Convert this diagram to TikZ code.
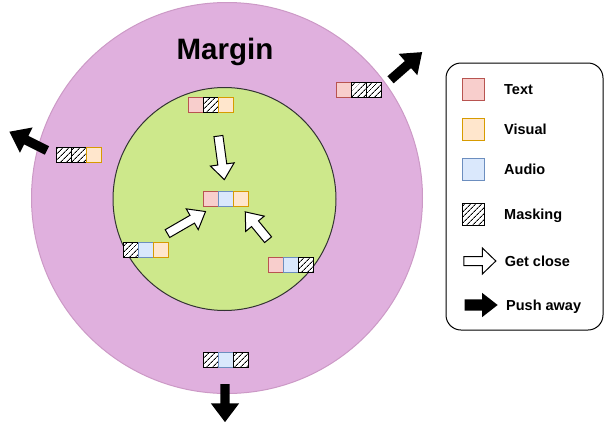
\documentclass[tikz,border=0pt]{standalone}
\usepackage{fontspec}
\setmainfont{Liberation Sans}
\usetikzlibrary{positioning,shapes.arrows,patterns.meta}
\definecolor{textfill}{HTML}{F8CECC}
\definecolor{textline}{HTML}{B85450}
\definecolor{visualfill}{HTML}{FFE6CC}
\definecolor{visualline}{HTML}{D79B00}
\definecolor{audiofill}{HTML}{DAE8FC}
\definecolor{audioline}{HTML}{6C8EBF}
\definecolor{marginfill}{HTML}{E0B0DE}
\definecolor{marginline}{HTML}{CC99C6}
\definecolor{corefill}{HTML}{CDE88B}
\tikzstyle{cell} = [rectangle, minimum size=15, inner sep=0, outer sep=0, line width=1]
\tikzstyle{textcell} = [cell, draw=textline, fill=textfill]
\tikzstyle{visualcell} = [cell, draw=visualline, fill=visualfill]
\tikzstyle{audiocell} = [cell, draw=audioline, fill=audiofill]
\tikzstyle{maskcell} = [cell, draw=black, preaction={fill=white}, pattern={Lines[angle=45, distance=4pt, line width=1pt]}]
\tikzstyle{getclose} = [single arrow, draw=black, fill=white, line width=1, inner xsep=0, inner ysep=4, single arrow head extend=7.5, single arrow tip angle=76]
\tikzstyle{pushaway} = [single arrow, fill=black, inner xsep=0, inner ysep=4.5, single arrow head extend=9.5, single arrow tip angle=74]
\tikzstyle{legendlabel} = [inner sep=0, anchor=west, text height=10, text depth=0, font=\fontsize{14.5}{17}\selectfont\bfseries]

\begin{document}
\begin{tikzpicture}[x=1pt, y=-1pt]
\useasboundingbox (0,0) rectangle (606,421);

% the two rings
\node [circle, draw=marginline, fill=marginfill, line width=1, minimum size=391] (margin) at (227,198) {};
\node [circle, draw=black!80, fill=corefill, line width=1, minimum size=223] (core) at (224.5,199) {};
\node [text height=20, text depth=0, font=\fontsize{29.5}{32}\selectfont\bfseries] (margintitle) at (225,49) {Margin};

% samples inside the margin
\node [textcell] (tin1) at (195.5,104.5) {};
\node [maskcell, right=0pt of tin1] (tin2) {};
\node [visualcell, right=0pt of tin2] (tin3) {};

\node [textcell] (cen1) at (210.5,198.5) {};
\node [audiocell, right=0pt of cen1] (cen2) {};
\node [visualcell, right=0pt of cen2] (cen3) {};

\node [maskcell] (lin1) at (130.5,250) {};
\node [audiocell, right=0pt of lin1] (lin2) {};
\node [visualcell, right=0pt of lin2] (lin3) {};

\node [textcell] (rin1) at (275.5,265) {};
\node [audiocell, right=0pt of rin1] (rin2) {};
\node [maskcell, right=0pt of rin2] (rin3) {};

% samples outside
\node [textcell] (tro1) at (343.5,89.5) {};
\node [maskcell, right=0pt of tro1] (tro2) {};
\node [maskcell, right=0pt of tro2] (tro3) {};

\node [maskcell] (lo1) at (63.5,155) {};
\node [maskcell, right=0pt of lo1] (lo2) {};
\node [visualcell, right=0pt of lo2] (lo3) {};

\node [maskcell] (bo1) at (210.5,359.5) {};
\node [audiocell, right=0pt of bo1] (bo2) {};
\node [maskcell, right=0pt of bo2] (bo3) {};

% get close
\coordinate (closeAtail) at (218,133);
\coordinate (closeAtip) at (224,177);
\coordinate (closeBtail) at (165,235);
\coordinate (closeBtip) at (203,213);
\coordinate (closeCtail) at (270,242);
\coordinate (closeCtip) at (247,214);
\path (closeAtail) -- node [getclose, sloped, allow upside down, minimum height=44] (closeA) {} (closeAtip);
\path (closeBtail) -- node [getclose, sloped, allow upside down, minimum height=44] (closeB) {} (closeBtip);
\path (closeCtail) -- node [getclose, sloped, allow upside down, minimum height=36] (closeC) {} (closeCtip);

% push away
\coordinate (pushAtail) at (388,82);
\coordinate (pushAtip) at (420,54);
\coordinate (pushBtail) at (50,152);
\coordinate (pushBtip) at (12,133);
\coordinate (pushCtail) at (225,381);
\coordinate (pushCtip) at (225,419);
\path (pushAtail) -- node [pushaway, sloped, allow upside down, minimum height=42] (pushA) {} (pushAtip);
\path (pushBtail) -- node [pushaway, sloped, allow upside down, minimum height=42] (pushB) {} (pushBtip);
\path (pushCtail) -- node [pushaway, sloped, allow upside down, minimum height=38] (pushC) {} (pushCtip);

% legend
\node [draw=black, line width=1, rounded corners=15, minimum width=157, minimum height=267] (legend) at (524.5,196.5) {};
\node [textcell, minimum size=22] (keytext) at (473,89) {};
\node [visualcell, minimum size=22] (keyvisual) at (473,129) {};
\node [audiocell, minimum size=22] (keyaudio) at (473,169) {};
\node [maskcell, minimum size=22] (keymask) at (473,214) {};
\node [getclose, minimum height=32, single arrow head extend=8.5, single arrow tip angle=88] (keyclose) at (477.5,261) {};
\node [pushaway, minimum height=33, inner ysep=5.5, single arrow head extend=6.5, single arrow tip angle=76] (keypush) at (477.5,305) {};
\node [legendlabel, right=20pt of keytext] {Text};
\node [legendlabel, right=20pt of keyvisual] {Visual};
\node [legendlabel, right=20pt of keyaudio] {Audio};
\node [legendlabel, right=20pt of keymask] {Masking};
\node [legendlabel, right=8pt of keyclose] {Get close};
\node [legendlabel, right=8pt of keypush] {Push away};
\end{tikzpicture}
\end{document}
